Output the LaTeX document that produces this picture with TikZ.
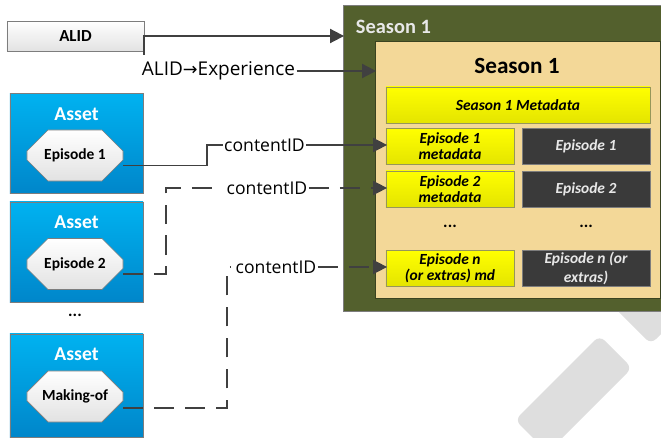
\documentclass[tikz,border=0pt]{standalone}
\usepackage{fontspec}
\setmainfont{Carlito}
\newfontfamily\labelfont{Open Sans}
\newfontfamily\symfont{DejaVu Sans}
\usetikzlibrary{positioning,shapes.misc,arrows.meta}

\definecolor{seasongreen}{RGB}{83,96,45}
\definecolor{seasontan}{RGB}{243,216,152}
\definecolor{boxgray}{RGB}{125,125,125}
\definecolor{alidgray}{RGB}{226,226,226}
\definecolor{assettop}{RGB}{0,178,240}
\definecolor{assetbottom}{RGB}{0,134,202}
\definecolor{mdyellow}{RGB}{255,255,0}
\definecolor{mdyellowdark}{RGB}{228,228,0}
\definecolor{mdborder}{RGB}{150,150,90}
\definecolor{epdark}{RGB}{58,58,58}
\definecolor{eptext}{RGB}{232,232,232}
\definecolor{linkgray}{RGB}{64,64,64}
\definecolor{wmgray}{RGB}{222,222,222}

\begin{document}
\begin{tikzpicture}[x=0.025cm, y=-0.025cm,
    alidbox/.style={draw=boxgray, top color=white, bottom color=alidgray,
        minimum width=3.425cm, minimum height=0.75cm,
        font=\fontsize{12}{14}\selectfont\bfseries},
    seasonbox/.style={draw=boxgray, fill=seasongreen},
    tanbox/.style={draw=seasongreen!70!black, fill=seasontan},
    seasontitle/.style={text=eptext, font=\fontsize{14.5}{16}\selectfont\bfseries},
    innertitle/.style={font=\fontsize{16.5}{18}\selectfont\bfseries},
    mdbox/.style={draw=mdborder, top color=mdyellow, bottom color=mdyellowdark,
        minimum width=3.2cm, minimum height=0.91cm, inner sep=1pt, align=center,
        font=\fontsize{11}{11.5}\selectfont\bfseries\itshape},
    darkbox/.style={draw=boxgray, fill=epdark, text=eptext,
        minimum width=3.2cm, minimum height=0.91cm, inner sep=1pt, align=center,
        font=\fontsize{11}{13.5}\selectfont\bfseries\itshape},
    assetbox/.style={draw=boxgray, top color=assettop, bottom color=assetbottom,
        minimum width=3.325cm, minimum height=2.5cm},
    assettitle/.style={text=white, font=\fontsize{14}{16}\selectfont\bfseries},
    octbox/.style={chamfered rectangle, chamfered rectangle xsep=0.42cm,
        chamfered rectangle ysep=0.36cm, draw=boxgray,
        top color=white, bottom color=alidgray,
        minimum width=2.4cm, minimum height=1.275cm, inner sep=0pt,
        font=\fontsize{11}{13}\selectfont\bfseries},
    dotslabel/.style={font=\fontsize{12}{13}\selectfont\bfseries},
    linklabel/.style={inner sep=1pt, font=\labelfont\fontsize{12.5}{14}\selectfont},
    link/.style={draw=linkgray, line width=1.3pt},
    dashlink/.style={dash pattern=on 14pt off 8pt},
    linkarrow/.style={-{Triangle[length=10pt,width=10pt]}, shorten >=-1pt}]

    % page and background
    \useasboundingbox (0,0) rectangle (661,438);
    \fill[white] (0,0) rectangle (661,438);

    % draw the watermark strokes
    \fill[wmgray, rounded corners=5pt] (578.4,271.6) -- (610.9,239.1) -- (683.4,311.6) -- (650.9,344.1) -- cycle;
    \fill[wmgray, rounded corners=5pt] (599.5,335.5) -- (632,368) -- (547.5,452.5) -- (515,420) -- cycle;

    % draw the season boxes
    \node[seasonbox, minimum width=8.25cm, minimum height=7.65cm] (season) at (508,158) {};
    \node[seasontitle, anchor=west] (seasonlbl) at (351,27) {Season 1};
    \node[tanbox, minimum width=7.125cm, minimum height=6.425cm] (inner) at (517.5,169.5) {};
    \node[innertitle] (innerlbl) at (517,66) {Season 1};

    % draw the metadata and episode boxes
    \node[mdbox, minimum width=6.6cm] (s1md) at (518,105) {Season 1 Metadata};
    \node[mdbox] (ep1md) at (450,146.5) {Episode 1\\metadata};
    \node[darkbox] (ep1) at (586,146.5) {Episode 1};
    \node[mdbox] (ep2md) at (450,189) {Episode 2\\metadata};
    \node[darkbox] (ep2) at (586,189) {Episode 2};
    \node[dotslabel] (mddots) at (450,226) {...};
    \node[dotslabel] (epdots) at (586,226) {...};
    \node[mdbox] (epnmd) at (450,268.5) {Episode n\\(or extras) md};
    \node[darkbox] (epn) at (586,268.5) {Episode n (or\\extras)};

    % draw the ALID box
    \node[alidbox] (alid) at (75.5,36) {ALID};

    % draw the assets
    \node[assetbox] (asset1) at (76.5,143.5) {};
    \node[assettitle] (asset1lbl) at (76.5,114) {Asset};
    \node[octbox] (oct1) at (75,155.5) {Episode 1};

    \node[assetbox] (asset2) at (76.5,252) {};
    \node[assettitle] (asset2lbl) at (76.5,222) {Asset};
    \node[octbox] (oct2) at (75,264) {Episode 2};

    \node[dotslabel] (assetdots) at (75,315) {...};

    \node[assetbox, minimum height=2.575cm] (asset3) at (76.5,385.5) {};
    \node[assettitle] (asset3lbl) at (76.5,354) {Asset};
    \node[octbox] (oct3) at (75,396.5) {Making-of};

    % draw the link labels
    \node[linklabel, font=\labelfont\fontsize{13.5}{15}\selectfont] (xplabel) at (218.5,71) {ALID{\symfont\fontsize{12.5}{15}\selectfont →}Experience};
    \node[linklabel] (cid1) at (264.5,145) {contentID};
    \node[linklabel] (cid2) at (267,188) {contentID};
    \node[linklabel] (cid3) at (276,267) {contentID};

    % draw the ALID links
    \draw[link, linkarrow] ([shift={(0,19)}]alid.east) -- (alid.east) -- (alid.east -| season.west);
    \draw[link, linkarrow] (xplabel.east) -- (xplabel.east -| inner.west);

    % draw the contentID links
    \draw[link] ([shift={(0,10)}]oct1.east) -- ++(84,0) |- (cid1.west);
    \draw[link, linkarrow] (cid1.east) -- (cid1.east -| ep1md.west);

    \draw[link, dashlink, shorten >=3pt] ([shift={(0,10)}]oct2.east) -- ++(43,0) |- (cid2.west);
    \draw[link, dashlink, linkarrow] (cid2.east) -- (cid2.east -| ep2md.west);

    \draw[link, dashlink, shorten >=3pt] ([shift={(0,11.5)}]oct3.east) -- ++(104,0) |- (cid3.west);
    \draw[link, dashlink, linkarrow] (cid3.east) -- (cid3.east -| epnmd.west);
\end{tikzpicture}
\end{document}
